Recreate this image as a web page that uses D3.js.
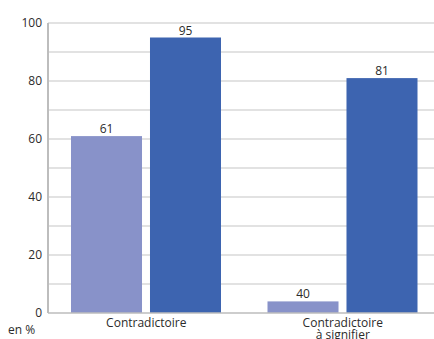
<!DOCTYPE html>
<html>
<head>
<meta charset="utf-8">
<script src="https://cdn.jsdelivr.net/npm/d3@7"></script>
<style>
  body { margin: 0; background: #fff; }
  text { font-family: "Open Sans", sans-serif; fill: #2b2b2b; }
</style>
</head>
<body>
<svg id="chart"></svg>
<script>
// -- DATA --
const categories = [["Contradictoire"], ["Contradictoire", "à signifier"]];
const seriesA = [61, 4];          // light bars (height as drawn)
const seriesALabels = ["61", "40"];
const seriesB = [95, 81];         // dark bars
const seriesBLabels = ["95", "81"];
const yTicks = [0, 20, 40, 60, 80, 100];
const gridTicks = [10, 20, 30, 40, 50, 60, 70, 80, 90, 100];

const W = 434, H = 339;
const margin = { top: 23, left: 48, bottom: 26 };
const plotH = H - margin.top - margin.bottom; // 290

const svg = d3.select("#chart").attr("width", W).attr("height", H);

// scales
const x0 = d3.scaleBand()
  .domain(d3.range(categories.length))
  .range([margin.left, margin.left + 393])
  .padding(0);
const x1 = d3.scaleBand()
  .domain(["a", "b"])
  .range([23, 173])
  .paddingInner(0.101)
  .paddingOuter(0);
const y = d3.scaleLinear().domain([0, 100]).range([margin.top + plotH, margin.top]);

// gridlines
svg.append("g")
  .selectAll("line")
  .data(gridTicks)
  .enter()
  .append("line")
  .attr("x1", margin.left)
  .attr("x2", W)
  .attr("y1", d => y(d))
  .attr("y2", d => y(d))
  .style("stroke", "#c6c6c6")
  .style("stroke-width", 1.2);

// bars
const rows = categories.map((c, i) => [
  { key: "a", i, v: seriesA[i], label: seriesALabels[i], color: "#8892c9" },
  { key: "b", i, v: seriesB[i], label: seriesBLabels[i], color: "#3d64b0" }
]).flat();

svg.append("g")
  .selectAll("rect")
  .data(rows)
  .enter()
  .append("rect")
  .attr("x", d => x0(d.i) + x1(d.key))
  .attr("y", d => y(d.v))
  .attr("width", x1.bandwidth())
  .attr("height", d => y(0) - y(d.v))
  .style("fill", d => d.color);

// value labels
svg.append("g")
  .selectAll("text")
  .data(rows)
  .enter()
  .append("text")
  .attr("x", d => x0(d.i) + x1(d.key) + x1.bandwidth() / 2)
  .attr("y", d => y(d.v) - 3)
  .attr("text-anchor", "middle")
  .style("font-size", "12px")
  .text(d => d.label);

// axes lines
svg.append("line")
  .attr("x1", margin.left).attr("x2", margin.left)
  .attr("y1", y(100)).attr("y2", y(0))
  .style("stroke", "#bdbdbd").style("stroke-width", 2);
svg.append("line")
  .attr("x1", margin.left).attr("x2", W)
  .attr("y1", y(0)).attr("y2", y(0))
  .style("stroke", "#bdbdbd").style("stroke-width", 1.5);

// y tick labels
svg.append("g")
  .selectAll("text")
  .data(yTicks)
  .enter()
  .append("text")
  .attr("x", margin.left - 6)
  .attr("y", d => y(d))
  .attr("dy", "0.35em")
  .attr("text-anchor", "end")
  .style("font-size", "12px")
  .text(d => d);

// category labels
const cat = svg.append("g")
  .selectAll("text")
  .data(categories)
  .enter()
  .append("text")
  .attr("x", (d, i) => x0(i) + x0.bandwidth() / 2)
  .attr("y", y(0) + 14)
  .attr("text-anchor", "middle")
  .style("font-size", "12px");
cat.selectAll("tspan")
  .data(d => d)
  .enter()
  .append("tspan")
  .attr("x", function () { return d3.select(this.parentNode).attr("x"); })
  .attr("dy", (d, j) => j === 0 ? 0 : 12)
  .text(d => d);

// unit
svg.append("text")
  .attr("x", 8)
  .attr("y", y(0) + 21)
  .style("font-size", "12px")
  .text("en %");
</script>
</body>
</html>
